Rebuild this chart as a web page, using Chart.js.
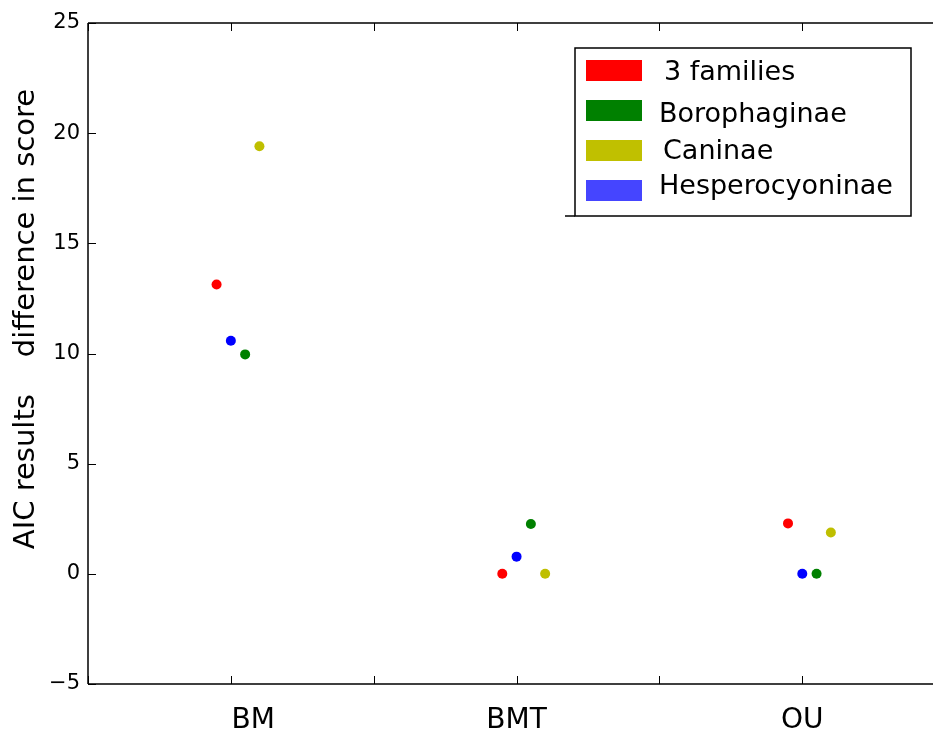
<!DOCTYPE html>
<html>
<head>
<meta charset="utf-8">
<script src="https://cdn.jsdelivr.net/npm/chart.js@4.4.1/dist/chart.umd.min.js"></script>
<style>
body { margin: 0; background: #fff; }
#wrap { width: 933px; height: 731px; }
</style>
</head>
<body>
<div id="wrap"><canvas id="aic-chart" width="933" height="731"></canvas></div>
<script>
var models = ["BM", "BMT", "OU"];
var threeFamilies = [13.13, 0, 2.29];
var borophaginae = [9.96, 2.26, 0];
var caninae = [19.41, 0, 1.88];
var hesperocyoninae = [10.58, 0.78, 0];
var yTicks = [-5, 0, 5, 10, 15, 20, 25];
var xTicks = [0.5, 1, 1.5, 2, 2.5, 3];

var FONT = "'DejaVu Sans', sans-serif";
Chart.defaults.color = "#000";
Chart.defaults.font.family = FONT;

function toPoints(values, shift) {
	return values.map(function(v, i) {
		return { x: i + 1 + shift, y: v };
	});
}

// series in legend order, with their sideways jitter
var series = [
	{ label: "3 families", values: threeFamilies, color: "#ff0000", patch: "#ff0000", shift: -0.05 },
	{ label: "Borophaginae", values: borophaginae, color: "#008000", patch: "#008000", shift: 0.05 },
	{ label: "Caninae", values: caninae, color: "#bfbf00", patch: "#c0c000", shift: 0.1 },
	{ label: "Hesperocyoninae", values: hesperocyoninae, color: "#0000ff", patch: "#4545ff", shift: 0 }
];

var frame = {
	id: "frame",
	afterDraw: function(chart) {
		var ctx = chart.ctx;
		var a = chart.chartArea;
		var xs = chart.scales.x, ys = chart.scales.y;
		ctx.save();
		ctx.strokeStyle = "#000";
		ctx.lineWidth = 1.5;
		ctx.beginPath();
		ctx.moveTo(a.left, a.top); ctx.lineTo(a.left, a.bottom);
		ctx.moveTo(a.left, a.bottom); ctx.lineTo(a.right + 10, a.bottom);
		ctx.moveTo(a.left, a.top); ctx.lineTo(a.right + 10, a.top);
		ctx.stroke();
		ctx.lineWidth = 1;
		ctx.beginPath();
		xs.ticks.forEach(function(t) {
			var px = Math.round(xs.getPixelForValue(t.value)) + 0.5;
			ctx.moveTo(px, a.bottom); ctx.lineTo(px, a.bottom - 8);
			ctx.moveTo(px, a.top); ctx.lineTo(px, a.top + 8);
		});
		ys.ticks.forEach(function(t) {
			var py = Math.round(ys.getPixelForValue(t.value)) + 0.5;
			ctx.moveTo(a.left, py); ctx.lineTo(a.left + 8, py);
		});
		ctx.stroke();

		// y axis title
		ctx.fillStyle = "#000";
		ctx.font = "29px " + FONT;
		ctx.textAlign = "center";
		ctx.textBaseline = "alphabetic";
		ctx.translate(33.5, 319);
		ctx.rotate(-Math.PI / 2);
		ctx.fillText("AIC results    difference in score", 0, 0);
		ctx.restore();

		// legend box
		ctx.save();
		ctx.strokeStyle = "#000";
		ctx.lineWidth = 1.5;
		ctx.strokeRect(575, 48, 336, 168);
		ctx.beginPath();
		ctx.moveTo(565, 216); ctx.lineTo(575, 216);
		ctx.stroke();
		var tops = [60, 100, 140, 180];
		var bases = [80, 121.5, 158.5, 194];
		var textX = [664, 659, 663, 659];
		ctx.font = "27px " + FONT;
		ctx.textAlign = "left";
		ctx.textBaseline = "alphabetic";
		chart.data.datasets.forEach(function(ds, i) {
			ctx.fillStyle = series[i].patch;
			ctx.fillRect(586, tops[i], 56, 21);
			ctx.fillStyle = "#000";
			ctx.fillText(ds.label, textX[i], bases[i]);
		});
		ctx.restore();
	}
};

new Chart(document.getElementById("aic-chart"), {
	type: "scatter",
	data: {
		datasets: series.map(function(s) {
			return {
				label: s.label,
				data: toPoints(s.values, s.shift),
				backgroundColor: s.color,
				borderWidth: 0,
				pointRadius: 5,
				pointHoverRadius: 5
			};
		})
	},
	options: {
		responsive: false,
		animation: false,
		layout: { padding: { top: 23, right: 0, left: 0, bottom: 0 } },
		plugins: {
			legend: { display: false },
			tooltip: { enabled: false }
		},
		scales: {
			x: {
				type: "linear",
				min: 0.5,
				max: 3.44,
				grid: { display: false, drawTicks: false },
				border: { display: false },
				afterFit: function(scale) { scale.height = 47; },
				afterBuildTicks: function(scale) {
					scale.ticks = xTicks.map(function(v) { return { value: v }; });
				},
				ticks: {
					autoSkip: false,
					maxRotation: 0,
					padding: 20,
					font: { size: 28 },
					callback: function(value) {
						if (value === 1) return "     " + models[0];
						if (Number.isInteger(value)) return models[value - 1];
						return "";
					}
				}
			},
			y: {
				min: -5,
				max: 25,
				grid: { display: false, drawTicks: false },
				border: { display: false },
				afterFit: function(scale) { scale.width = 88; },
				afterBuildTicks: function(scale) {
					scale.ticks = yTicks.map(function(v) { return { value: v }; });
				},
				ticks: {
					padding: 8,
					font: { size: 21 },
					callback: function(value) {
						return value < 0 ? "\u2212" + Math.abs(value) : String(value);
					}
				}
			}
		}
	},
	plugins: [frame]
});
</script>
</body>
</html>
